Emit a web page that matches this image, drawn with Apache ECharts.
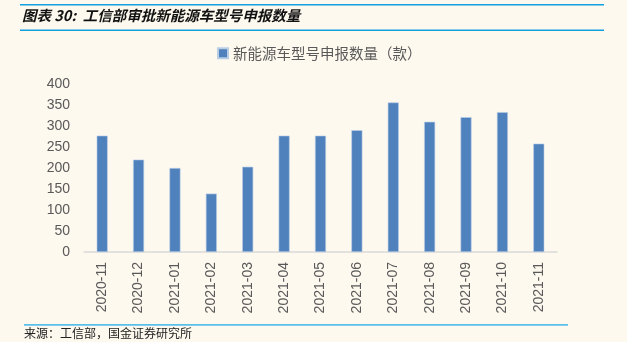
<!DOCTYPE html>
<html>
<head>
<meta charset="utf-8">
<script src="https://cdn.jsdelivr.net/npm/echarts@6/dist/echarts.min.js"></script>
<style>
  html, body { margin: 0; padding: 0; background: #fdf9ef; }
  #chart { width: 627px; height: 342px; }
</style>
</head>
<body>
<div id="chart"></div>
<script>
// 工信部新能源车型号申报数量（款），按月
const months = ['2020-11', '2020-12', '2021-01', '2021-02', '2021-03', '2021-04', '2021-05',
                '2021-06', '2021-07', '2021-08', '2021-09', '2021-10', '2021-11'];
const modelCounts = [277, 220, 200, 139, 203, 277, 277, 290, 356, 310, 321, 333, 258];
const seriesName = '新能源车型号申报数量（款）';
const titleText = '图表 30:  工信部审批新能源车型号申报数量';
const sourceText = '来源：工信部，国金证券研究所';

const chart = echarts.init(document.getElementById('chart'), null, { renderer: 'canvas' });
const latin = '"Liberation Sans", Arial, "Noto Sans CJK SC", sans-serif';
const cjk = '"Noto Sans CJK SC", sans-serif';

chart.setOption({
  backgroundColor: '#fdf9ef',
  animation: false,
  grid: { left: 84, right: 70, top: 84, bottom: 90, containLabel: false },
  legend: {
    top: 41,
    left: 212,
    itemWidth: 10,
    itemHeight: 10,
    itemGap: 6,
    icon: 'rect',
    textStyle: { color: '#595959', fontSize: 14.5, fontFamily: cjk },
    data: [seriesName]
  },
  xAxis: {
    type: 'category',
    data: months,
    axisLine: { show: true, lineStyle: { color: '#d9d9d9', width: 1.5 } },
    axisTick: { show: false },
    axisLabel: { rotate: 90, margin: 10, color: '#595959', fontSize: 14, fontFamily: latin }
  },
  yAxis: {
    type: 'value',
    min: 0,
    max: 400,
    interval: 50,
    splitLine: { show: false },
    axisLine: { show: false },
    axisTick: { show: false },
    axisLabel: { margin: 14, color: '#595959', fontSize: 14, fontFamily: latin }
  },
  series: [{
    name: seriesName,
    type: 'bar',
    data: modelCounts,
    barWidth: 11,
    itemStyle: { color: '#4f81bd', borderColor: '#b9cde5', borderWidth: 0.6 }
  }],
  graphic: [
    { type: 'rect', shape: { x: 20, y: 4, width: 584, height: 1.5 }, style: { fill: '#13a0e0' } },
    { type: 'rect', shape: { x: 20, y: 29.5, width: 584, height: 1.5 }, style: { fill: '#13a0e0' } },
    {
      type: 'text', left: 22, top: 8,
      style: { text: titleText, fill: '#111', font: 'italic bold 14.5px ' + cjk }
    },
    { type: 'rect', shape: { x: 24, y: 324, width: 544, height: 1.8 }, style: { fill: '#5bbfea' } },
    {
      type: 'text', left: 24, top: 327,
      style: { text: sourceText, fill: '#222', font: '12px ' + cjk }
    }
  ]
});
</script>
</body>
</html>
